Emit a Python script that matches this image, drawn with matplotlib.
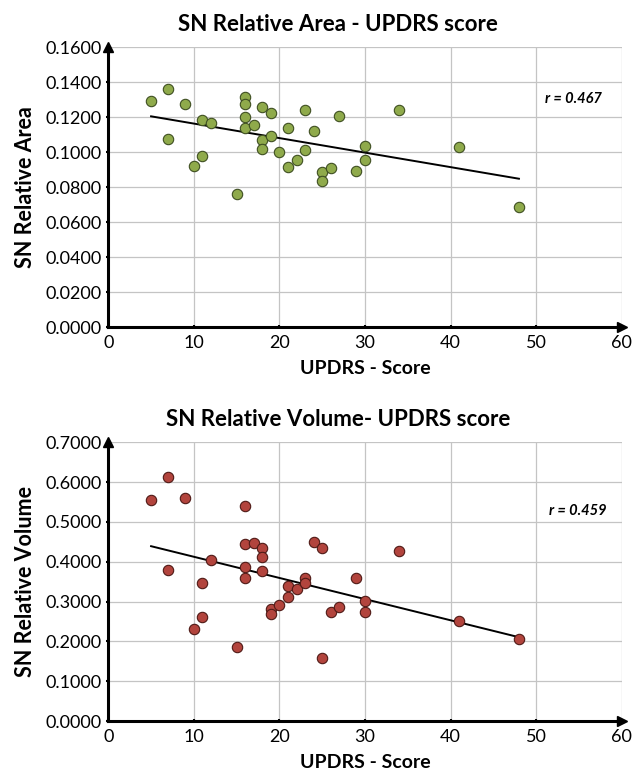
#!/usr/bin/env python3
"""SN relative area / volume vs UPDRS score, two stacked scatter plots."""

import matplotlib as mpl
import matplotlib.pyplot as plt
import numpy as np

# UPDRS score per patient (shared by both panels)
UPDRS = [5, 7, 7, 9, 10, 11, 11, 12, 15, 16, 16, 16, 16, 17, 18, 18, 18,
         19, 19, 20, 21, 21, 22, 23, 23, 24, 25, 25, 26, 27, 29, 30, 30,
         34, 41, 48]

SN_AREA = [0.1290, 0.1359, 0.1078, 0.1277, 0.0920, 0.1183, 0.0981, 0.1166,
           0.0759, 0.1315, 0.1273, 0.1200, 0.1136, 0.1157, 0.1260, 0.1070,
           0.1021, 0.1227, 0.1092, 0.1000, 0.1139, 0.0916, 0.0954, 0.1242,
           0.1013, 0.1122, 0.0885, 0.0835, 0.0910, 0.1206, 0.0893, 0.1034,
           0.0958, 0.1241, 0.1029, 0.0687]

SN_VOLUME = [0.556, 0.612, 0.379, 0.561, 0.231, 0.346, 0.261, 0.404,
             0.185, 0.540, 0.445, 0.387, 0.360, 0.447, 0.435, 0.411,
             0.376, 0.281, 0.268, 0.291, 0.340, 0.312, 0.331, 0.360,
             0.346, 0.450, 0.435, 0.159, 0.273, 0.286, 0.359, 0.301,
             0.275, 0.427, 0.251, 0.207]

X_TICKS = [0, 10, 20, 30, 40, 50, 60]
AREA_TICKS = [0.0, 0.02, 0.04, 0.06, 0.08, 0.10, 0.12, 0.14, 0.16]
VOLUME_TICKS = [0.0, 0.1, 0.2, 0.3, 0.4, 0.5, 0.6, 0.7]

mpl.rcParams.update({
    "font.family": ["Lato", "DejaVu Sans"],
    "figure.facecolor": "white",
    "axes.facecolor": "white",
})

W, H = 632, 778


def panel(fig, rect_px, y, yticks, face, edge, title, ylabel, r_text, r_pos):
    left, top, right, bottom = rect_px
    ax = fig.add_axes([left / W, 1 - bottom / H, (right - left) / W, (bottom - top) / H])
    x = np.array(UPDRS, dtype=float)
    y = np.array(y, dtype=float)

    ax.scatter(x, y, s=56, color=face, edgecolor=edge, linewidth=0.8, zorder=4)

    # linear trendline across data range
    k, b = np.polyfit(x, y, 1)
    xs = np.array([x.min(), x.max()])
    ax.plot(xs, k * xs + b, color="black", linewidth=1.4, zorder=3)

    ax.set_xlim(0, 60)
    ax.set_ylim(yticks[0], yticks[-1])
    ax.set_xticks(X_TICKS)
    ax.set_xticklabels([str(t) for t in X_TICKS], fontsize=13)
    ax.set_yticks(yticks)
    ax.set_yticklabels([f"{t:.4f}" for t in yticks], fontsize=13)
    ax.grid(True, color="#C4C4C4", linewidth=0.9, zorder=0)
    ax.set_axisbelow(True)

    for s in ("top", "right"):
        ax.spines[s].set_visible(False)
    for s in ("left", "bottom"):
        ax.spines[s].set_color("black")
        ax.spines[s].set_linewidth(2.2)
        ax.spines[s].set_zorder(5)
    ax.tick_params(axis="both", length=3, width=1.5, direction="inout",
                   colors="black", pad=3)
    ax.tick_params(axis="x", pad=4)

    # arrow heads at the axis ends
    ax.plot(0, 1, marker="^", color="black", markersize=7, transform=ax.transAxes,
            clip_on=False, zorder=6)
    ax.plot(1, 0, marker=">", color="black", markersize=7, transform=ax.transAxes,
            clip_on=False, zorder=6)

    ax.text(r_pos[0], r_pos[1], r_text, fontsize=10.5, fontweight="bold",
            fontstyle="italic", ha="left", va="center", color="black")

    ax.set_xlabel("UPDRS - Score", fontsize=14, fontweight="bold", labelpad=7)
    ax.set_ylabel(ylabel, fontsize=15.5, fontweight="bold", labelpad=7)
    fig.text(338 / W, 1 - (top - 23) / H, title, fontsize=16, fontweight="bold",
             ha="center", va="center")
    return ax


def draw():
    fig = plt.figure(figsize=(W / 100, H / 100), dpi=100)

    panel(fig, (108.3, 47.3, 621.6, 327.0), SN_AREA, AREA_TICKS,
          "#8FAA4B", "#3F4F22", "SN Relative Area - UPDRS score",
          "SN Relative Area", "r = 0.467", (51.0, 0.1304))

    panel(fig, (108.3, 442.3, 621.6, 721.0), SN_VOLUME, VOLUME_TICKS,
          "#B2443D", "#4F1A16", "SN Relative Volume- UPDRS score",
          "SN Relative Volume", "r = 0.459", (51.5, 0.528))

    fig.savefig("out.png", dpi=100)
    plt.close(fig)


if __name__ == "__main__":
    draw()
